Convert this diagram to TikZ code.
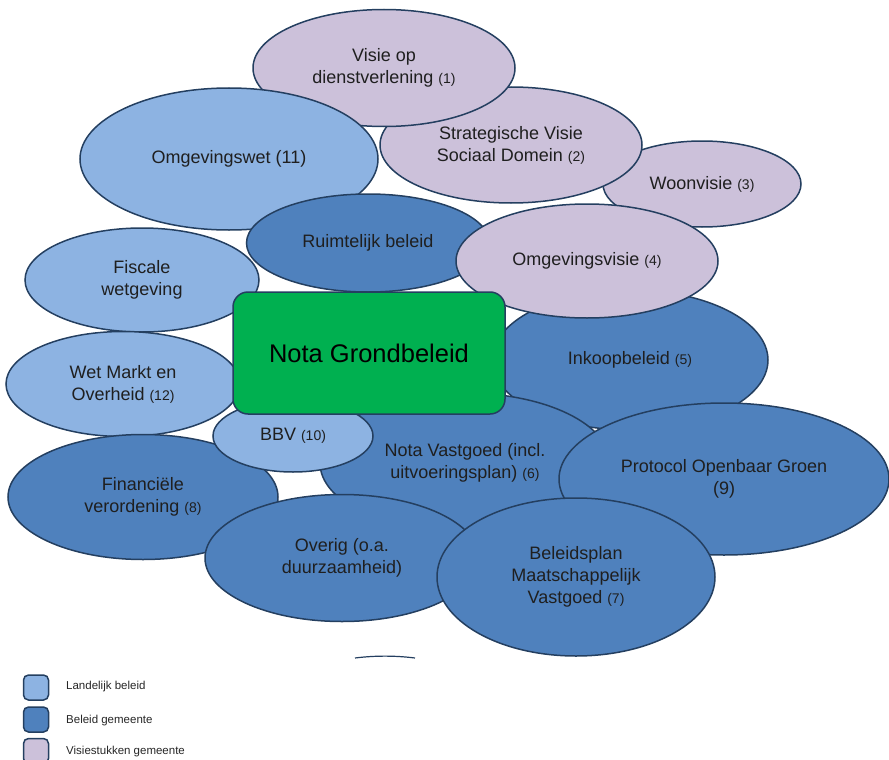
\documentclass[tikz,border=0pt]{standalone}
\usepackage{fontspec}
\setmainfont{Liberation Sans}
\usepackage{tikz}
\usetikzlibrary{shapes.geometric}
\definecolor{lichtblauw}{HTML}{8DB3E2}
\definecolor{donkerblauw}{HTML}{4F81BD}
\definecolor{lila}{HTML}{CCC1DA}
\definecolor{groen}{HTML}{00B050}
\definecolor{rand}{HTML}{243F60}
\tikzstyle{bol}=[ellipse,draw=rand,line width=1.5pt,inner sep=0pt,align=center,text=black!88,font=\fontsize{18}{22}\selectfont]
\tikzstyle{landelijk}=[bol,fill=lichtblauw]
\tikzstyle{gemeente}=[bol,fill=donkerblauw]
\tikzstyle{visie}=[bol,fill=lila]
\tikzstyle{nota}=[rectangle,rounded corners=15pt,draw=rand,line width=1.5pt,fill=groen,font=\fontsize{25.5}{30}\selectfont]
\tikzstyle{legendbox}=[rectangle,rounded corners=5pt,draw=rand,line width=1.5pt,minimum size=25pt,inner sep=0pt]
\tikzstyle{legendtext}=[anchor=west,inner sep=0pt,text=black!85,font=\fontsize{11.5}{14}\selectfont]
\newcommand{\nr}[1]{{\fontsize{14}{22}\selectfont #1}}

\begin{document}
\begin{tikzpicture}[x=1pt,y=-1pt]
\useasboundingbox (0,0) rectangle (889,760);

% visiestukken (bovenkant)
\node[visie,minimum width=198pt,minimum height=86pt] (woon) at (702,184) {Woonvisie \nr{(3)}};
\node[visie,minimum width=262pt,minimum height=116pt] (sociaal) at (511,145) {Strategische Visie\\Sociaal Domein \nr{(2)}};
\node[visie,minimum width=262pt,minimum height=117pt] (dienst) at (384,68) {Visie op\\dienstverlening \nr{(1)}};

\node[landelijk,minimum width=298pt,minimum height=142pt] (omgwet) at (229,159) {Omgevingswet (11)};
\node[gemeente,minimum width=243pt,minimum height=98pt] (ruimte) at (368,243) {Ruimtelijk beleid};
\node[gemeente,minimum width=276pt,minimum height=140pt] (inkoop) at (630,360) {Inkoopbeleid \nr{(5)}};
\node[visie,minimum width=262pt,minimum height=114pt] (omgvisie) at (587,261) {Omgevingsvisie \nr{(4)}};

% landelijk beleid (links)
\node[landelijk,minimum width=234pt,minimum height=104pt] (fiscaal) at (142,280) {Fiscale\\wetgeving};
\node[landelijk,minimum width=234pt,minimum height=105pt] (markt) at (123,384) {Wet Markt en\\Overheid \nr{(12)}};

% beleid gemeente (onderkant)
\node[gemeente,minimum width=290pt,minimum height=140pt] (vastgoed) at (465,463) {Nota Vastgoed (incl.\\uitvoeringsplan) \nr{(6)}};
\node[gemeente,minimum width=270pt,minimum height=125pt] (financ) at (143,497) {Financiële\\verordening \nr{(8)}};
\node[landelijk,minimum width=160pt,minimum height=72pt] (bbv) at (293,436) {BBV \nr{(10)}};
\node[gemeente,minimum width=330pt,minimum height=152pt] (groen) at (724,479) {Protocol Openbaar Groen\\(9)};
\node[gemeente,minimum width=274pt,minimum height=127pt] (overig) at (342,558) {Overig (o.a.\\duurzaamheid)};
\node[gemeente,minimum width=278pt,minimum height=158pt] (mvg) at (576,577) {Beleidsplan\\Maatschappelijk\\Vastgoed \nr{(7)}};

% losse rand onder
\draw[rand,line width=1.2pt] (355,658) .. controls (375,655.5) and (395,655.5) .. (415,658);

% midden
\node[nota,minimum width=272pt,minimum height=122pt] (grond) at (369,353) {Nota Grondbeleid};

% legenda
\node[legendbox,fill=lichtblauw] (leg1) at (36,687.5) {};
\node[legendbox,fill=donkerblauw] (leg2) at (36,719.5) {};
\node[legendbox,fill=lila] (leg3) at (36,751) {};
\node[legendtext] (leg1txt) at (66,687) {Landelijk beleid};
\node[legendtext] (leg2txt) at (66,721) {Beleid gemeente};
\node[legendtext] (leg3txt) at (66,752) {Visiestukken gemeente};

\end{tikzpicture}
\end{document}
